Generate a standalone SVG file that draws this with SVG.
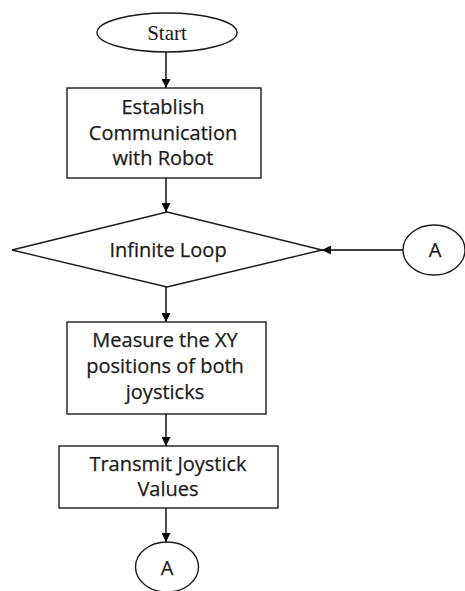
<svg xmlns="http://www.w3.org/2000/svg" width="465" height="591" viewBox="0 0 465 591">
<defs>
<marker id="ah" viewBox="0 0 10 10" refX="10" refY="5" markerWidth="9" markerHeight="9" markerUnits="userSpaceOnUse" orient="auto">
<path d="M0,0 L10,5 L0,10 Z" fill="#000"/>
</marker>
</defs>
<style>
.s{fill:#fff;stroke:#1a1a1a;stroke-width:1.4}
.t{font-family:"Open Sans","DejaVu Sans",sans-serif;font-size:20px;fill:#1a1a1a;stroke:#1a1a1a;stroke-width:0.25;text-anchor:middle}
.sr{font-family:"Liberation Serif","Times New Roman",serif;font-size:21px;fill:#1a1a1a;text-anchor:middle}
.c{stroke:#000;stroke-width:1.4;fill:none;marker-end:url(#ah)}
</style>
<rect width="465" height="591" fill="#fff"/>
<g id="connectors">
<line class="c" x1="166" y1="52" x2="166" y2="88"/>
<line class="c" x1="166" y1="178" x2="166" y2="212"/>
<line class="c" x1="166" y1="287" x2="166" y2="322"/>
<line class="c" x1="166" y1="414" x2="166" y2="446"/>
<line class="c" x1="166" y1="508" x2="166" y2="542"/>
<line class="c" x1="403" y1="250" x2="322" y2="250"/>
</g>
<g id="start">
<ellipse class="s" cx="167" cy="32.5" rx="70" ry="19.5"/>
<text class="sr" x="167" y="39.5">Start</text>
</g>
<g id="establish">
<rect class="s" x="67" y="88" width="194" height="90"/>
<text class="t" x="163" y="113.5">Establish</text>
<text class="t" x="163" y="139.5">Communication</text>
<text class="t" x="163" y="164.5">with Robot</text>
</g>
<g id="loop">
<polygon class="s" points="167,212 322,250 167,287 12,250"/>
<text class="t" x="168" y="257">Infinite Loop</text>
</g>
<g id="connA_in">
<ellipse class="s" cx="434" cy="250" rx="31" ry="25"/>
<text class="t" x="435" y="257">A</text>
</g>
<g id="measure">
<rect class="s" x="67" y="322" width="199" height="92"/>
<text class="t" x="165" y="347">Measure the XY</text>
<text class="t" x="165" y="373">positions of both</text>
<text class="t" x="165" y="398.5">joysticks</text>
</g>
<g id="transmit">
<rect class="s" x="59" y="446" width="219" height="62"/>
<text class="t" x="168" y="470.5">Transmit Joystick</text>
<text class="t" x="168" y="495.5">Values</text>
</g>
<g id="connA_out">
<ellipse class="s" cx="167" cy="567" rx="31.5" ry="25"/>
<text class="t" x="167" y="575">A</text>
</g>
</svg>
